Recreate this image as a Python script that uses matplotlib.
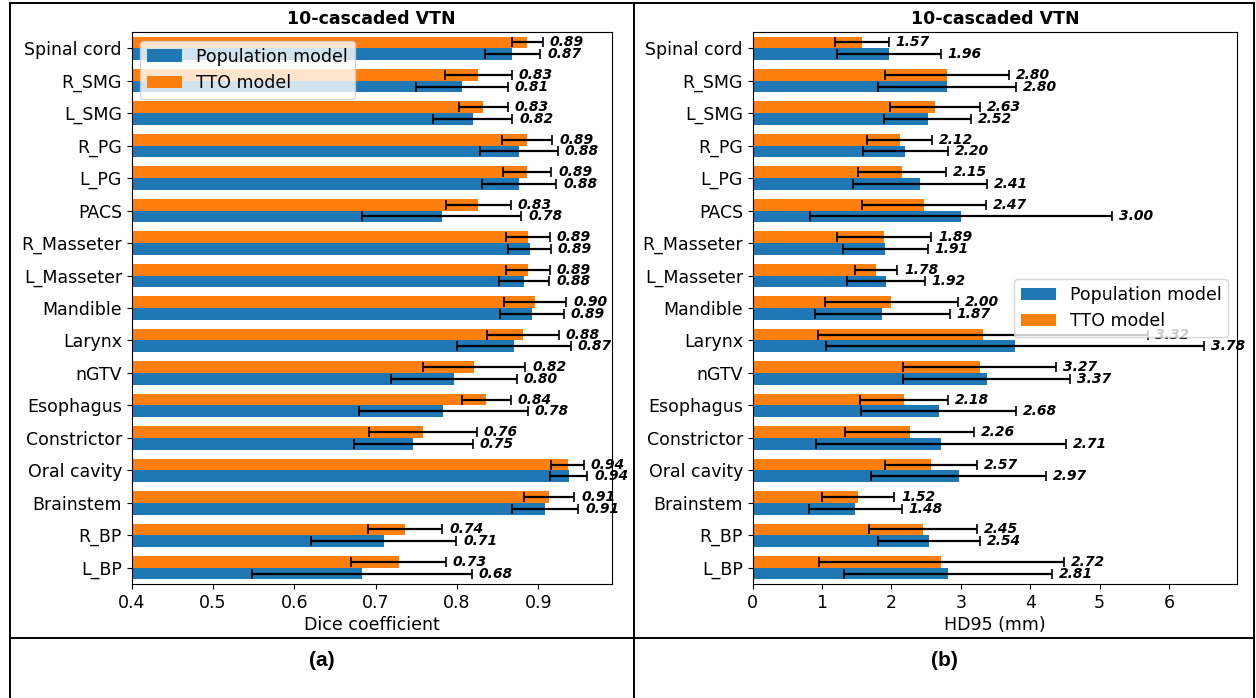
import matplotlib
matplotlib.use("Agg")
import matplotlib.pyplot as plt
from matplotlib.lines import Line2D
import numpy as np

categories = ["Spinal cord", "R_SMG", "L_SMG", "R_PG", "L_PG", "PACS", "R_Masseter",
              "L_Masseter", "Mandible", "Larynx", "nGTV", "Esophagus", "Constrictor",
              "Oral cavity", "Brainstem", "R_BP", "L_BP"]

dice_pop = [0.868, 0.806, 0.819, 0.876, 0.876, 0.781, 0.889, 0.882, 0.892, 0.870,
            0.796, 0.783, 0.746, 0.937, 0.908, 0.710, 0.683]
dice_pop_std = [0.034, 0.056, 0.049, 0.048, 0.046, 0.098, 0.026, 0.031, 0.039, 0.070,
                0.077, 0.104, 0.073, 0.023, 0.041, 0.089, 0.135]
dice_tto = [0.886, 0.826, 0.832, 0.886, 0.886, 0.826, 0.887, 0.887, 0.896, 0.881,
            0.821, 0.836, 0.758, 0.936, 0.913, 0.736, 0.728]
dice_tto_std = [0.019, 0.041, 0.030, 0.031, 0.030, 0.040, 0.027, 0.027, 0.038, 0.044,
                0.063, 0.030, 0.066, 0.020, 0.031, 0.046, 0.058]

hd_pop = [1.96, 2.80, 2.52, 2.20, 2.41, 3.00, 1.91, 1.92, 1.87, 3.78, 3.37, 2.68,
          2.71, 2.97, 1.48, 2.54, 2.81]
hd_pop_std = [0.75, 0.99, 0.63, 0.61, 0.96, 2.18, 0.61, 0.56, 0.97, 2.73, 1.21, 1.12,
              1.80, 1.26, 0.67, 0.73, 1.50]
hd_tto = [1.57, 2.80, 2.63, 2.12, 2.15, 2.47, 1.89, 1.78, 2.00, 3.32, 3.27, 2.18,
          2.26, 2.57, 1.52, 2.45, 2.72]
hd_tto_std = [0.39, 0.89, 0.65, 0.47, 0.63, 0.89, 0.68, 0.30, 0.96, 2.38, 1.10, 0.63,
              0.93, 0.66, 0.52, 0.78, 1.77]

title = "10-cascaded VTN"
series_labels = ["Population model", "TTO model"]
xlabels = ["Dice coefficient", "HD95 (mm)"]
panel_labels = ["(a)", "(b)"]

W, H = 1256, 698
fig = plt.figure(figsize=(W / 100, H / 100), dpi=100)

FS = 12.5


def px_rect(x0, x1, ytop, ybot):
    return [x0 / W, 1 - ybot / H, (x1 - x0) / W, (ybot - ytop) / H]


def draw(ax, pop, pop_std, tto, tto_std, xlim, xlabel, legend_loc):
    y = np.arange(len(categories))
    h = 0.36
    ax.barh(y - h / 2, tto, height=h, color="#ff7f0e", label=series_labels[1], zorder=2)
    ax.barh(y + h / 2, pop, height=h, color="#1f77b4", label=series_labels[0], zorder=2)
    ax.errorbar(tto, y - h / 2, xerr=tto_std, fmt="none", ecolor="black",
                elinewidth=1.6, capsize=3.3, capthick=1.2, zorder=3)
    ax.errorbar(pop, y + h / 2, xerr=pop_std, fmt="none", ecolor="black",
                elinewidth=1.6, capsize=3.3, capthick=1.2, zorder=3)
    for yi, v, s in zip(y, tto, tto_std):
        ax.annotate(f"{v:.2f}", (v + s, yi - h / 2), xytext=(5, 0),
                    textcoords="offset points", va="center", ha="left",
                    fontsize=10, fontweight="bold", fontstyle="italic", zorder=3)
    for yi, v, s in zip(y, pop, pop_std):
        ax.annotate(f"{v:.2f}", (v + s, yi + h / 2), xytext=(5, 0),
                    textcoords="offset points", va="center", ha="left",
                    fontsize=10, fontweight="bold", fontstyle="italic", zorder=3)
    ax.set_yticks(y)
    ax.set_yticklabels(categories, fontsize=FS)
    ax.set_ylim(len(categories) - 0.5, -0.5)
    ax.set_xlim(*xlim)
    ax.tick_params(axis="x", labelsize=FS)
    ax.set_xlabel(xlabel, fontsize=FS, labelpad=3)
    ax.set_title(title, fontsize=FS, fontweight="bold")
    handles, labels = ax.get_legend_handles_labels()
    ax.legend(handles[::-1], labels[::-1], loc=legend_loc, fontsize=FS)


ax1 = fig.add_axes(px_rect(131.7, 611.7, 32, 584))
draw(ax1, dice_pop, dice_pop_std, dice_tto, dice_tto_std, (0.4, 0.99), xlabels[0], "upper left")

ax2 = fig.add_axes(px_rect(752.7, 1237, 32, 584))
draw(ax2, hd_pop, hd_pop_std, hd_tto, hd_tto_std, (0, 6.98), xlabels[1], "center right")


def fline(x0, y0, x1, y1, lw=1.4):
    fig.add_artist(Line2D([x0 / W, x1 / W], [1 - y0 / H, 1 - y1 / H],
                          transform=fig.transFigure, color="black", lw=lw))


fline(10, 3, 1254, 3)
fline(10, 3, 10, 698)
fline(634, 3, 634, 698)
fline(1254, 3, 1254, 698)
fline(10, 638, 1254, 638)

fig.text(322 / W, 1 - 660 / H, panel_labels[0], ha="center", va="center",
         fontsize=15, fontweight="bold", family=["Liberation Sans", "DejaVu Sans"])
fig.text(944 / W, 1 - 660 / H, panel_labels[1], ha="center", va="center",
         fontsize=15, fontweight="bold", family=["Liberation Sans", "DejaVu Sans"])

fig.savefig("out.png", dpi=100)
